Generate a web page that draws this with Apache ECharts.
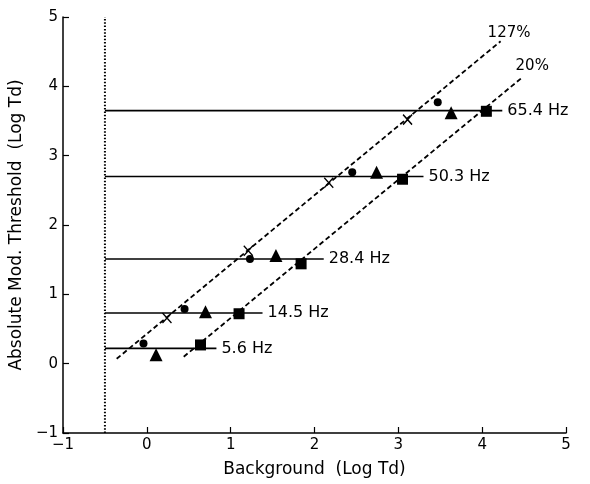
<!DOCTYPE html>
<html><head><meta charset="utf-8">
<script src="https://cdn.jsdelivr.net/npm/echarts@6/dist/echarts.min.js"></script>
<style>html,body{margin:0;padding:0;background:#fff}#c{width:590px;height:484px}</style>
</head><body><div id="c"></div>
<script>
const xTicks = [-1, 0, 1, 2, 3, 4, 5];
const yTicks = [-1, 0, 1, 2, 3, 4, 5];
const hzLabels = ['65.4 Hz', '50.3 Hz', '28.4 Hz', '14.5 Hz', '5.6 Hz'];
const hzLevel = [3.65, 2.70, 1.51, 0.73, 0.22];
const hzEnd = [4.24, 3.30, 2.11, 1.38, 0.83];
const hzStart = -0.5;
const circles = [[3.47, 3.77], [2.45, 2.76], [1.23, 1.51], [0.45, 0.79], [-0.04, 0.29]];
const triangles = [[3.63, 3.62], [2.74, 2.76], [1.54, 1.56], [0.70, 0.75], [0.11, 0.13]];
const squares = [[4.05, 3.64], [3.05, 2.66], [1.84, 1.44], [1.10, 0.72], [0.64, 0.27]];
const crosses = [[3.11, 3.52], [2.17, 2.61], [1.21, 1.63], [0.24, 0.66]];
const line127 = [[-0.36, 0.07], [4.22, 4.65]];
const line20 = [[0.44, 0.10], [4.47, 4.12]];
const dottedX = -0.5;

const font = '"DejaVu Sans", "Liberation Sans", Arial, sans-serif';
const series = [];
series.push({type: 'line', data: [[dottedX, -1], [dottedX, 5]], symbol: 'none', silent: true,
  lineStyle: {color: '#000', width: 2, type: [1.5, 1.8]}});
hzLabels.forEach((lab, i) => {
  series.push({type: 'line', symbol: 'none', silent: true,
    lineStyle: {color: '#000', width: 1.6},
    data: [[hzStart, hzLevel[i]], [hzEnd[i], hzLevel[i]]],
    endLabel: {show: true, distance: 5, formatter: lab, color: '#000', fontSize: 16, fontFamily: font}
  });
});
function dashLine(d, txt, off) {
  return {type: 'line', symbol: 'none', silent: true,
    lineStyle: {color: '#000', width: 1.8, type: [5, 3]},
    data: d,
    endLabel: {show: true, distance: 5, offset: off, formatter: txt, color: '#000', fontSize: 15, fontFamily: font}};
}
series.push(dashLine(line127, '127%', [-18, -8]));
series.push(dashLine(line20, '20%', [-11, -12]));
const mk = {color: '#000', opacity: 1};
series.push({type: 'scatter', data: circles, symbol: 'circle', symbolSize: 8, itemStyle: mk});
series.push({type: 'scatter', data: triangles, symbol: 'triangle', symbolSize: 13, itemStyle: mk});
series.push({type: 'scatter', data: squares, symbol: 'rect', symbolSize: 11, itemStyle: mk});
series.push({type: 'scatter', data: crosses, symbol: 'path://M0,0L10,12M10,0L0,12', symbolSize: [9, 10],
  itemStyle: {color: 'none', borderColor: '#000', borderWidth: 1.4, opacity: 1}});

const axisCommon = {
  type: 'value', min: -1, max: 5, interval: 1,
  axisLine: {show: true, onZero: false, lineStyle: {color: '#000', width: 1.5}},
  axisTick: {show: true, inside: true, length: 6, lineStyle: {color: '#000', width: 1.2}},
  axisLabel: {color: '#000', fontSize: 15, fontFamily: font, margin: 5},
  splitLine: {show: false},
  nameLocation: 'middle',
  nameTextStyle: {color: '#000', fontSize: 17, fontFamily: font}
};
const chart = echarts.init(document.getElementById('c'));
chart.setOption({
  animation: false,
  grid: {left: 63, right: 24, top: 17, bottom: 51, containLabel: false},
  xAxis: Object.assign({}, axisCommon, {name: 'Background  (Log Td)', nameGap: 28,
    axisLabel: Object.assign({}, axisCommon.axisLabel, {formatter: v => xTicks.includes(v) ? String(v).replace('-', '\u2212') : ''})}),
  yAxis: Object.assign({}, axisCommon, {name: 'Absolute Mod. Threshold  (Log Td)', nameGap: 31,
    axisLabel: Object.assign({}, axisCommon.axisLabel, {formatter: v => yTicks.includes(v) ? String(v).replace('-', '\u2212') : ''})}),
  series: series
});
</script></body></html>
